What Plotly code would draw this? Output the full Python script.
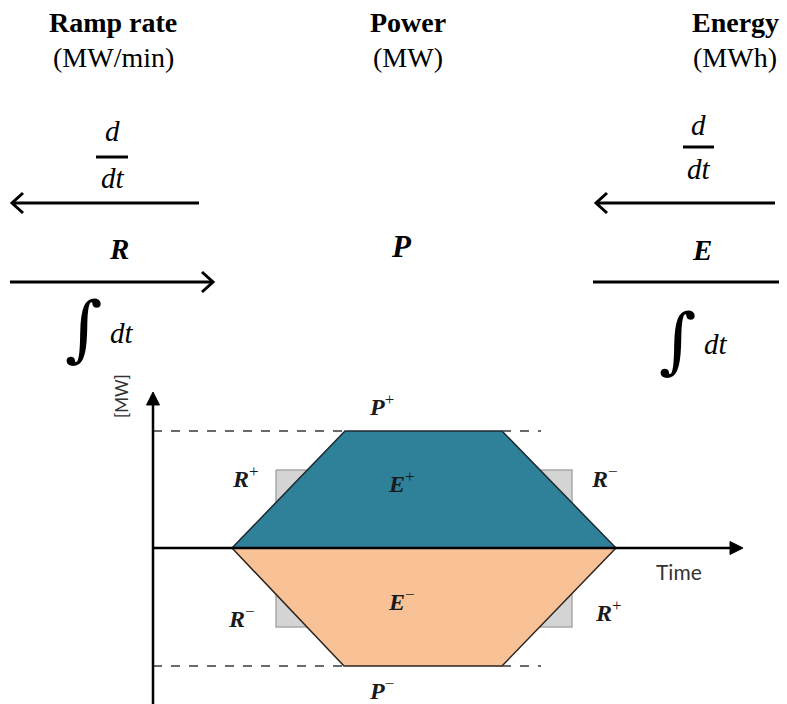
import plotly.graph_objects as go

W, H = 787, 704
PAGE_MARGIN = 8  # default body margin of the html page

# ---------------- data (canvas units = reference pixels) ----------------
# upper (charging / E+) trapezoid
upper_x = [232, 345, 502, 616, 232]
upper_y = [548, 431, 431, 548, 548]
# lower (discharging / E-) trapezoid
lower_x = [232, 616, 502, 344, 232]
lower_y = [548, 548, 666, 666, 548]
# grey ramp-rate boxes: x0, x1, y0, y1
box_x0 = [276, 276, 530, 530]
box_x1 = [320, 320, 572, 572]
box_y0 = [470, 585, 470, 585]
box_y1 = [512, 627, 512, 627]
# dashed power limits
dash_y = [431, 431, 666, 666]
dash_x0 = [153, 502, 153, 502]
dash_x1 = [345, 541, 344, 541]
# axes
axis_origin = (153, 548)
axis_y_top = 392
axis_y_bottom = 704
axis_x_end = 743

# header arrows: head x, tail x, y
hdr_arrow_head = [12, 213, 596, 795]
hdr_arrow_tail = [199, 10, 775, 593]
hdr_arrow_y = [203, 282, 203, 282]

# header labels
head_titles = ["Ramp rate", "Power", "Energy"]
head_units = ["(MW/min)", "(MW)", "(MWh)"]
head_x = [113, 408, 735]

# diagram labels
lab_base = ["P", "P", "E", "E", "R", "R", "R", "R"]
lab_sign = ["+", "−", "+", "−", "+", "−", "−", "+"]
lab_x = [381, 381, 401, 401, 245, 241, 604, 608]
lab_y = [405, 689, 482, 600, 477, 617, 477, 611]

TEAL = "#2E8199"
PEACH = "#F8C196"
BLACK = "#000000"

fig = go.Figure()

def line(xs, ys, color=BLACK, width=2.5, dash=None, fill=None, fillcolor=None):
    fig.add_trace(go.Scatter(x=xs, y=ys, mode="lines", fill=fill, fillcolor=fillcolor,
                             line=dict(color=color, width=width, dash=dash),
                             hoverinfo="skip"))

# grey boxes (drawn first, partly hidden)
for x0, x1, y0, y1 in zip(box_x0, box_x1, box_y0, box_y1):
    line([x0, x1, x1, x0, x0], [y0, y0, y1, y1, y0], color="#A8A8A8", width=1.5,
         fill="toself", fillcolor="#D4D4D4")

line(upper_x, upper_y, color="#1E2A30", width=1.5, fill="toself", fillcolor=TEAL)
line(lower_x, lower_y, color="#2A2420", width=1.5, fill="toself", fillcolor=PEACH)

for y, x0, x1 in zip(dash_y, dash_x0, dash_x1):
    line([x0, x1], [y, y], color="#3A3A3A", width=1.3, dash="dash")

# axes with filled triangular heads
ox, oy = axis_origin
line([ox, ox], [axis_y_bottom, axis_y_top + 8], width=2.5)
line([ox, axis_x_end - 8], [oy, oy], width=2.5)
line([ox, ox - 6.5, ox + 6.5, ox], [axis_y_top, axis_y_top + 13, axis_y_top + 13, axis_y_top],
     width=1, fill="toself", fillcolor=BLACK)
line([axis_x_end, axis_x_end - 13, axis_x_end - 13, axis_x_end], [oy, oy - 6.5, oy + 6.5, oy],
     width=1, fill="toself", fillcolor=BLACK)

# header arrows with open chevron heads
for hx, tx, y in zip(hdr_arrow_head, hdr_arrow_tail, hdr_arrow_y):
    d = 1 if hx > tx else -1
    line([tx, hx], [y, y], width=3)
    line([hx - d * 11, hx, hx - d * 11], [y - 10, y, y + 10], width=3)

# fraction bars
for x0, x1, y in [(96, 128, 157), (683, 714, 147)]:
    line([x0, x1], [y, y], width=3)

annotations = []
SERIF = "Liberation Serif"
MATH = "DejaVu Serif"

def txt(x, y, text, size, family=SERIF, color=BLACK, angle=0):
    annotations.append(dict(x=x, y=y, xref="x", yref="y", text=text, showarrow=False,
                            xanchor="center", yanchor="middle", textangle=angle,
                            font=dict(family=family, size=size, color=color)))

for t, u, x in zip(head_titles, head_units, head_x):
    txt(x, 22, "<b>" + t + "</b>", 28)
    txt(x, 57, u, 28)

# d/dt and integrals
txt(112, 131, "<i>d</i>", 29)
txt(113, 178, "<i>dt</i>", 29)
txt(698, 125, "<i>d</i>", 29)
txt(699, 169, "<i>dt</i>", 29)
txt(84, 328, "∫", 72, family=MATH)
txt(122, 333, "<i>dt</i>", 29)
txt(678, 340, "∫", 72, family=MATH)
txt(716, 344, "<i>dt</i>", 29)

# bold italic variables
txt(119, 249, "<b><i>R</i></b>", 29)
txt(401, 246, "<b><i>P</i></b>", 31)
txt(702, 250, "<b><i>E</i></b>", 29)

# diagram labels
for b, s, x, y in zip(lab_base, lab_sign, lab_x, lab_y):
    txt(x, y, "<b><i>" + b + "</i></b><sup><span style='font-size:17px'>" + s + "</span></sup>",
        24, color="#1A1A1A")

txt(679, 571, "Time", 21, family="Lato", color="#333333")
txt(121, 396, "[MW]", 17, family="Lato", color="#333333", angle=-90)

# the page adds an 8px body margin; shift the canvas so reference pixels line up
fig.update_layout(
    width=W - PAGE_MARGIN, height=H - PAGE_MARGIN, margin=dict(l=0, r=0, t=0, b=0),
    paper_bgcolor="white", plot_bgcolor="white", showlegend=False,
    xaxis=dict(range=[PAGE_MARGIN, W], visible=False, fixedrange=True),
    yaxis=dict(range=[H, PAGE_MARGIN], visible=False, fixedrange=True),
    annotations=annotations,
)

fig.write_html("out.html", config={"displayModeBar": False})
